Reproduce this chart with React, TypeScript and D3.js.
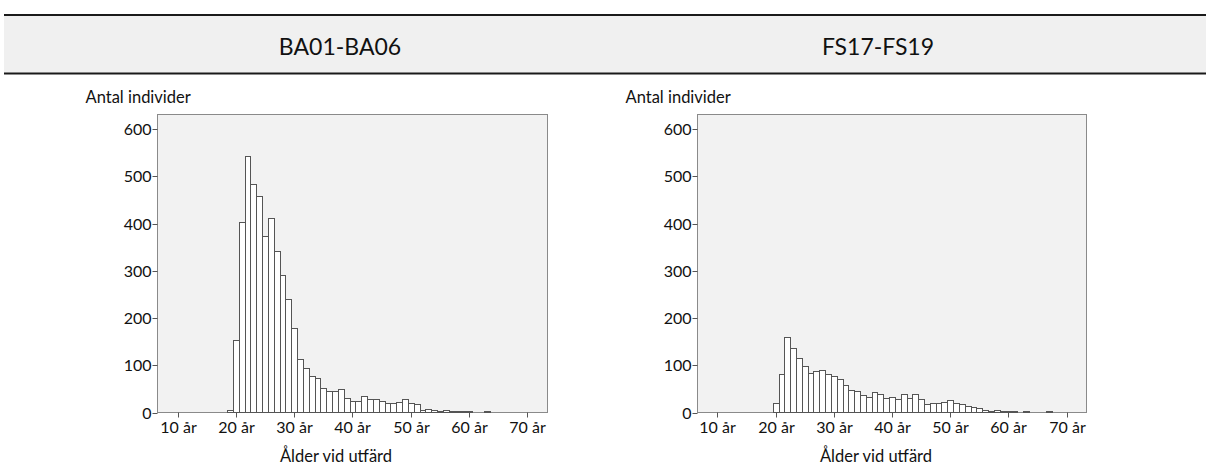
import * as d3 from 'd3';

// ages (bin centres, 1-year bins) and counts
const ages = d3.range(18, 71);

const countsBA = [
  0, 5, 154, 403, 544, 483, 459, 373, 411, 343, 292, 241, 178, 114, 95, 77, 73, 52, 45, 45,
  49, 30, 24, 24, 34, 28, 29, 25, 20, 20, 22, 28, 20, 18, 6, 8, 6, 3, 5, 2,
  2, 1, 1, 0, 0, 1, 0, 0, 0, 0, 0, 0, 0,
];

const countsFS = [
  0, 0, 21, 81, 160, 137, 115, 98, 84, 87, 91, 82, 77, 71, 58, 48, 45, 38, 33, 43,
  40, 31, 33, 28, 39, 30, 40, 29, 18, 21, 20, 23, 27, 20, 17, 13, 12, 9, 5, 4,
  6, 4, 3, 2, 0, 1, 0, 0, 0, 1, 0, 0, 0,
];

const yTicks = [0, 100, 200, 300, 400, 500, 600];
const xTicks = [10, 20, 30, 40, 50, 60, 70];

const panels = [
  { title: 'BA01-BA06', counts: countsBA, left: 157.5, right: 547.5, titleX: 340, axisTitleX: 336 },
  { title: 'FS17-FS19', counts: countsFS, left: 697.5, right: 1086.5, titleX: 878, axisTitleX: 876 },
];

const FONT = 'Lato, "DejaVu Sans", sans-serif';
const TOP = 114.5;
const BOTTOM = 412.5;

function Histogram({ p }: { p: typeof panels[0] }) {
  const x = d3.scaleLinear().domain([6.57, 73.43]).range([p.left, p.right]);
  const y = d3.scaleLinear().domain([0, 631]).range([BOTTOM, TOP]);

  return (
    <g>
      <rect x={p.left} y={TOP} width={p.right - p.left} height={BOTTOM - TOP}
        fill="#f2f2f2" stroke="#8a8a8a" strokeWidth={1} />
      {ages.map((a, i) => {
        const v = p.counts[i];
        if (!v) return null;
        const x0 = Math.round(x(a - 0.5)) + 0.5;
        const x1 = Math.round(x(a + 0.5)) + 0.5;
        // keep the smallest bins visible as a thin sliver, like the original
        const yt = Math.min(Math.round(y(v)) + 0.5, BOTTOM - 1);
        return (
          <rect key={a} x={x0} y={yt} width={x1 - x0} height={BOTTOM - yt}
            fill="#ffffff" stroke="#555" strokeWidth={1} />
        );
      })}
      {yTicks.map(t => (
        <g key={t} transform={`translate(0,${Math.round(y(t)) + 0.5})`}>
          <line x1={p.left - 5} x2={p.left} stroke="#555" />
          <text x={p.left - 6} dy="0.35em" textAnchor="end" fontSize={16} fill="#111"
            fontFamily={FONT}>{t}</text>
        </g>
      ))}
      {xTicks.map(t => (
        <g key={t} transform={`translate(${Math.round(x(t)) + 0.5},0)`}>
          <line y1={BOTTOM} y2={BOTTOM + 5} stroke="#555" />
          <text y={433} textAnchor="middle" fontSize={16} fill="#111"
            fontFamily={FONT}>{`${t} år`}</text>
        </g>
      ))}
      <text x={p.left - 72} y={103} fontSize={16.5} fill="#111" fontFamily={FONT}>Antal individer</text>
      <text x={p.axisTitleX} y={462} textAnchor="middle" fontSize={16.5} fill="#111"
        fontFamily={FONT}>Ålder vid utfärd</text>
      <text x={p.titleX} y={55} textAnchor="middle" fontSize={23} fill="#111"
        fontFamily={FONT}>{p.title}</text>
    </g>
  );
}

export default function App() {
  return (
    <svg width={1206} height={468} style={{ position: 'absolute', left: 0, top: 0, background: '#fff' }}>
      <rect x={4} y={15} width={1202} height={59} fill="#f0f0f0" />
      <line x1={4} x2={1206} y1={15} y2={15} stroke="#1a1a1a" strokeWidth={2} />
      <line x1={4} x2={1206} y1={73.5} y2={73.5} stroke="#1a1a1a" strokeWidth={2} />
      {panels.map(p => <Histogram key={p.title} p={p} />)}
    </svg>
  );
}
